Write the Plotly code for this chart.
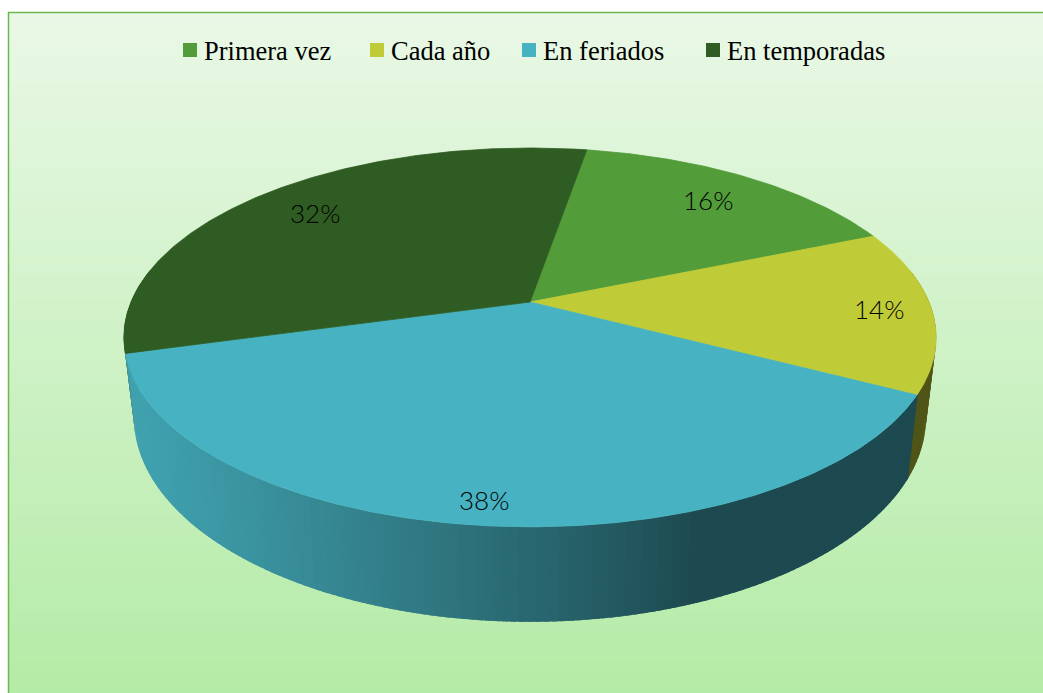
import numpy as np
import plotly.graph_objects as go

# ---------------- data ----------------
categories = ["Primera vez", "Cada año", "En feriados", "En temporadas"]
values = [16, 14, 38, 32]
colors = ["#529c3a", "#c0cc37", "#47b3c2", "#2f5c22"]
labels = [f"{v}%" for v in values]

# ---------------- layout / geometry constants ----------------
W, H = 1043, 693
CX, CY = 530, 302          # pie apex in pixel space
KX, KY = 399, 182.8        # projected radii
P = 0.187                  # perspective strength
DEPTH = 77.2               # rim thickness
BOT_SX = 0.975             # bottom rim horizontal shrink
START = 9.7                # first slice boundary, degrees clockwise from far side
label_r = [0.80, 0.87, 0.905, 0.80]
legend_marker_x = [183, 370, 522, 706]   # legend layout (pixels)
LEG_Y = 50
MARK = 14


def hex_rgb(h):
    h = h.lstrip("#")
    return tuple(int(h[i:i + 2], 16) for i in (0, 2, 4))


def shade(h, f):
    r, g, b = hex_rgb(h)
    return "rgb(%d,%d,%d)" % (round(r * f), round(g * f), round(b * f))


def proj(theta_deg, r=1.0, bottom=False):
    t = np.radians(theta_deg)
    X = r * np.sin(t)
    Y = r * np.cos(t)
    d = 1 + P * Y
    sx = KX * X / d
    sy = CY - KY * Y / d
    if bottom:
        sx = sx * BOT_SX
        sy = sy + DEPTH / d
    return CX + sx, sy


total = float(sum(values))
bounds = [START]
for v in values:
    bounds.append(bounds[-1] + 360.0 * v / total)


def slice_of(theta):
    t = theta
    while t < START:
        t += 360
    while t >= START + 360:
        t -= 360
    for i in range(len(values)):
        if bounds[i] <= t < bounds[i + 1]:
            return i
    return len(values) - 1


fig = go.Figure()

# background gradient
y_edges = np.linspace(12, 693, 228)
zcol = [[i] for i in range(len(y_edges) - 1)]
fig.add_trace(go.Heatmap(
    x=[8, 1043], y=y_edges, z=zcol, showscale=False, hoverinfo="skip",
    colorscale=[[0, "#e9f8e6"], [1, "#b4eba6"]]))

# ---------------- side (rim) ----------------
edges = list(np.arange(80, 281, 1.0))
for b in bounds:
    for bb in (b, b - 360, b + 360):
        if 80 < bb < 280:
            edges.append(bb)
edges = sorted(set(edges))

segs = []
for a, b in zip(edges[:-1], edges[1:]):
    mid = 0.5 * (a + b)
    i = slice_of(mid)
    f = 0.41 + 0.49 * max(0.0, np.cos(np.radians(mid - 250)))
    # overlap neighbours slightly to hide anti-aliasing seams
    ts = np.linspace(a - 0.4, b + 0.4, 3)
    xt, yt = proj(ts)
    xb, yb = proj(ts[::-1], bottom=True)
    xs = list(xt) + list(xb) + [xt[0]]
    ys = list(yt) + list(yb) + [yt[0]]
    segs.append((np.cos(np.radians(mid)), xs, ys, shade(colors[i], f)))

# painter's order: farthest first
segs.sort(key=lambda s: -s[0])
for _, xs, ys, c in segs:
    fig.add_trace(go.Scatter(
        x=xs, y=ys, mode="lines", fill="toself", fillcolor=c,
        line=dict(width=0), hoverinfo="skip", showlegend=False))

# ---------------- top faces ----------------
for i, v in enumerate(values):
    ts = np.arange(bounds[i], bounds[i + 1], 0.5)
    ts = np.append(ts, bounds[i + 1])
    xa, ya = proj(ts)
    xs = [CX] + list(xa) + [CX]
    ys = [CY] + list(ya) + [CY]
    fig.add_trace(go.Scatter(
        x=xs, y=ys, mode="lines", fill="toself", fillcolor=colors[i],
        line=dict(color=colors[i], width=0.8), hoverinfo="skip",
        showlegend=False))

# ---------------- data labels ----------------
annotations = []
for i, txt in enumerate(labels):
    mid = 0.5 * (bounds[i] + bounds[i + 1])
    lx, ly = proj(mid, r=label_r[i])
    annotations.append(dict(
        x=float(lx), y=float(ly), xref="x", yref="y", text=txt,
        showarrow=False,
        font=dict(family="Lato", size=26, color="black", weight=300)))

# ---------------- legend (manual) ----------------
shapes = []
for cat, c, mx in zip(categories, colors, legend_marker_x):
    shapes.append(dict(type="rect", xref="x", yref="y", x0=mx, x1=mx + MARK,
                       y0=LEG_Y - MARK / 2, y1=LEG_Y + MARK / 2,
                       fillcolor=c, line=dict(width=0)))
    annotations.append(dict(
        x=mx + MARK + 5, y=LEG_Y + 1, xref="x", yref="y", text=cat,
        xanchor="left", yanchor="middle", showarrow=False,
        font=dict(family="Liberation Serif", size=26.5, color="black")))

shapes.append(dict(type="rect", xref="x", yref="y", x0=8.5, y0=12.5,
                   x1=1060, y1=710, line=dict(color="#6cb84e", width=1.5),
                   layer="above"))

fig.update_layout(
    width=W, height=H,
    margin=dict(l=0, r=0, t=0, b=0),
    paper_bgcolor="white", plot_bgcolor="white",
    xaxis=dict(range=[0, W], visible=False, fixedrange=True),
    yaxis=dict(range=[H, 0], visible=False, fixedrange=True),
    showlegend=False,
    annotations=annotations,
    shapes=shapes,
)

fig.write_html(
    "out.html",
    config={"displayModeBar": False},
    post_script="document.body.style.margin='0';document.body.style.overflow='hidden';",
)
